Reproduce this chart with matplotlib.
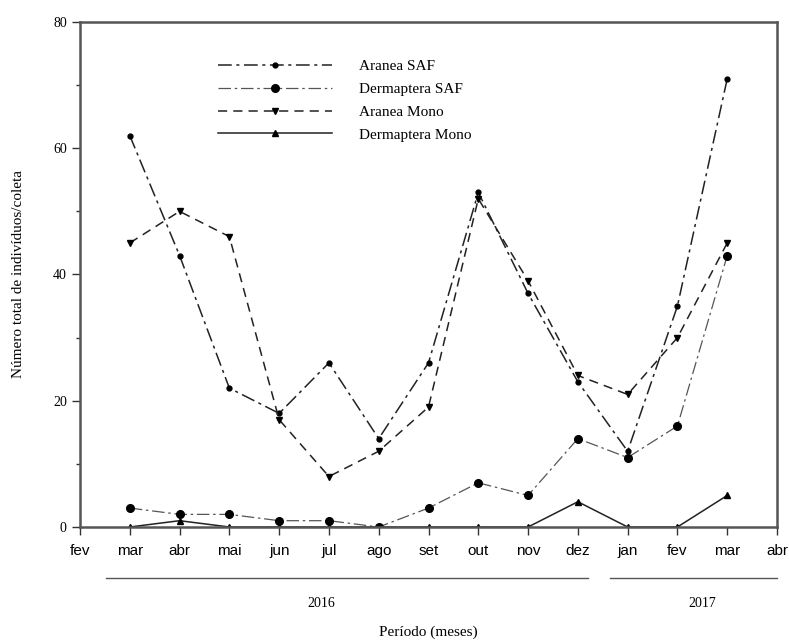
import matplotlib
matplotlib.use("Agg")
import matplotlib.pyplot as plt
import numpy as np

# meses (fev/2016 .. abr/2017), dados de mar/2016 a mar/2017
month_labels = ['fev', 'mar', 'abr', 'mai', 'jun', 'jul', 'ago', 'set',
                'out', 'nov', 'dez', 'jan', 'fev', 'mar', 'abr']
months = np.arange(1, 14)

aranea_saf = [62, 43, 22, 18, 26, 14, 26, 53, 37, 23, 12, 35, 71]
dermaptera_saf = [3, 2, 2, 1, 1, 0, 3, 7, 5, 14, 11, 16, 43]
aranea_mono = [45, 50, 46, 17, 8, 12, 19, 52, 39, 24, 21, 30, 45]
dermaptera_mono = [0, 1, 0, 0, 0, 0, 0, 0, 0, 4, 0, 0, 5]

serif = 'Liberation Serif'
sans = 'Liberation Sans'

fig = plt.figure(figsize=(7.89, 6.43), dpi=100)
ax = fig.add_axes([0.1014, 0.1804, 0.8834, 0.7854])

ax.plot(months, aranea_saf, color='#222222', lw=1.1, dashes=(9, 3, 2, 3),
        marker='o', ms=3.5, mfc='black', mec='black', label='Aranea SAF')
ax.plot(months, dermaptera_saf, color='#555555', lw=0.9, dashes=(10, 3, 2, 3),
        marker='o', ms=5.5, mfc='black', mec='black', label='Dermaptera SAF')
ax.plot(months, aranea_mono, color='#222222', lw=1.1, dashes=(6, 4),
        marker='v', ms=4.5, mfc='black', mec='black', label='Aranea Mono')
ax.plot(months, dermaptera_mono, color='#222222', lw=1.1, linestyle='-',
        marker='^', ms=4.5, mfc='black', mec='black', label='Dermaptera Mono')

ax.set_xlim(0, 14)
ax.set_ylim(0, 80)
ax.set_xticks(np.arange(0, 15))
ax.set_xticklabels(month_labels, fontfamily=sans, fontsize=11)
ax.set_yticks([0, 20, 40, 60, 80])
ax.set_yticks([10, 30, 50, 70], minor=True)
for t in ax.get_yticklabels():
    t.set_fontfamily(serif)
    t.set_fontsize(10)
ax.tick_params(axis='both', which='major', direction='out', length=6, width=1, color='#333333')
ax.tick_params(axis='y', which='minor', direction='out', length=3, width=1, color='#333333')
ax.tick_params(axis='x', pad=6)
for s in ax.spines.values():
    s.set_linewidth(1.8)
    s.set_color('#555555')

ax.set_ylabel('Número total de indivíduos/coleta', fontfamily=serif, fontsize=11, labelpad=20)

# faixas dos anos sob os meses
trans = ax.get_xaxis_transform()
ax.plot([0.52, 10.2], [-0.101, -0.101], transform=trans, color='#555555', lw=1, clip_on=False)
ax.plot([10.64, 14.0], [-0.101, -0.101], transform=trans, color='#555555', lw=1, clip_on=False)
ax.text(4.84, -0.152, '2016', transform=trans, ha='center', va='center', fontfamily=serif, fontsize=10)
ax.text(12.5, -0.152, '2017', transform=trans, ha='center', va='center', fontfamily=serif, fontsize=10)
ax.text(7.0, -0.208, 'Período (meses)', transform=trans, ha='center', va='center', fontfamily=serif, fontsize=11)

leg = ax.legend(loc='upper left', bbox_to_anchor=(0.178, 0.953), frameon=False,
                handlelength=7.5, handletextpad=1.75, labelspacing=0.6,
                prop={'family': serif, 'size': 11})

fig.savefig('out.png', dpi=100)
